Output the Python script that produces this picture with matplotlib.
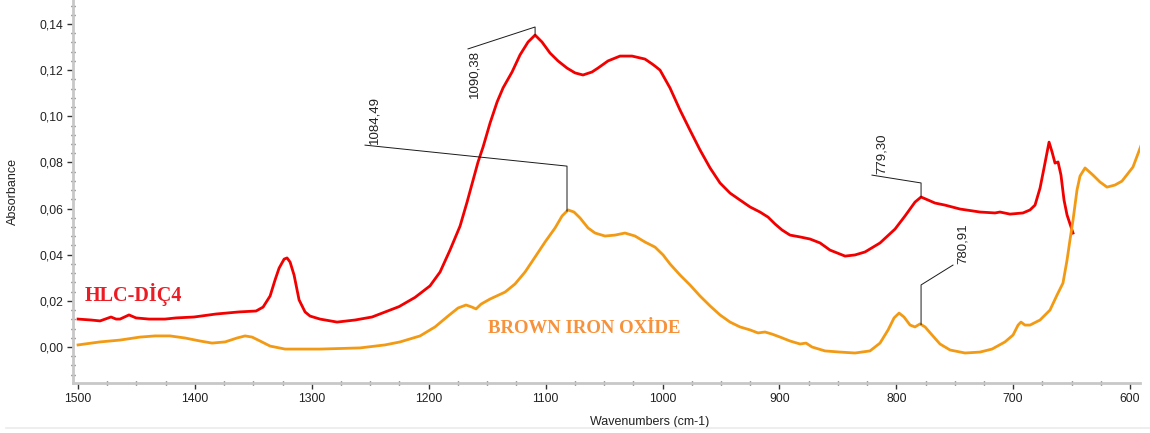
import numpy as np
import matplotlib
matplotlib.use("Agg")
import matplotlib.pyplot as plt
from matplotlib.lines import Line2D
from matplotlib.ticker import MultipleLocator, FuncFormatter

plt.rcParams['font.family'] = ['Liberation Sans', 'DejaVu Sans']

# HLC-DİÇ4 spectrum (wavenumber, absorbance)
hlc_wn = [1500.0, 1488.9, 1481.2, 1471.8, 1467.5, 1464.1, 1456.4, 1450.4, 1439.3, 1425.6,
          1416.2, 1400.8, 1381.9, 1362.3, 1347.7, 1341.7, 1335.7, 1331.5, 1328.0, 1323.7,
          1321.2, 1318.6, 1315.2, 1310.9, 1305.8, 1301.5, 1293.0, 1278.4, 1263.0, 1248.5,
          1225.4, 1211.7, 1198.9, 1190.3, 1181.8, 1173.2, 1167.2, 1157.8, 1153.5, 1147.5,
          1141.5, 1136.4, 1128.7, 1121.9, 1115.0, 1109.0, 1103.1, 1096.2, 1089.4, 1081.7,
          1074.8, 1068.0, 1060.3, 1055.2, 1046.6, 1036.3, 1026.1, 1015.0, 1008.9, 1005.5,
          1002.1, 993.6, 985.0, 976.5, 967.9, 959.3, 950.8, 942.2, 933.7, 925.1,
          916.6, 909.7, 903.7, 897.7, 890.9, 882.3, 873.8, 865.2, 856.7, 843.8,
          835.3, 826.7, 813.9, 801.1, 792.5, 784.0, 778.8, 772.8, 766.9, 758.3,
          745.5, 728.4, 715.5, 711.3, 702.7, 691.6, 685.6, 681.3, 677.0, 673.6,
          669.3, 666.7, 664.2, 661.6, 659.1, 656.5, 653.9, 648.8]
hlc_abs = [0.0121, 0.0117, 0.0113, 0.0130, 0.0121, 0.0121, 0.0139, 0.0126, 0.0121, 0.0121,
           0.0126, 0.0130, 0.0143, 0.0152, 0.0156, 0.0173, 0.0221, 0.0290, 0.0342, 0.0381,
           0.0386, 0.0368, 0.0312, 0.0204, 0.0152, 0.0134, 0.0121, 0.0108, 0.0117, 0.0130,
           0.0175, 0.0215, 0.0265, 0.0325, 0.0420, 0.0524, 0.0628, 0.0802, 0.0867, 0.0971,
           0.1062, 0.1123, 0.1192, 0.1266, 0.1322, 0.1352, 0.1322, 0.1274, 0.1240, 0.1209,
           0.1188, 0.1179, 0.1192, 0.1209, 0.1240, 0.1261, 0.1261, 0.1248, 0.1227, 0.1214,
           0.1200, 0.1123, 0.1027, 0.0940, 0.0854, 0.0776, 0.0711, 0.0667, 0.0637, 0.0607,
           0.0585, 0.0563, 0.0533, 0.0507, 0.0485, 0.0477, 0.0468, 0.0451, 0.0420, 0.0394,
           0.0399, 0.0412, 0.0451, 0.0511, 0.0568, 0.0628, 0.0650, 0.0637, 0.0624, 0.0615,
           0.0598, 0.0585, 0.0581, 0.0585, 0.0576, 0.0581, 0.0594, 0.0615, 0.0689, 0.0776,
           0.0888, 0.0845, 0.0797, 0.0802, 0.0745, 0.0637, 0.0572, 0.0494]

# brown iron oxide spectrum
bio_wn = [1500.0, 1481.2, 1464.1, 1447.0, 1434.1, 1421.3, 1408.5, 1395.6, 1385.4, 1374.2,
          1364.0, 1357.1, 1351.1, 1344.3, 1335.7, 1322.9, 1293.0, 1258.8, 1237.4, 1224.5,
          1207.4, 1194.6, 1183.5, 1174.9, 1168.1, 1163.0, 1159.5, 1155.2, 1147.5, 1134.7,
          1126.2, 1117.6, 1109.0, 1100.5, 1091.9, 1085.9, 1080.8, 1075.7, 1070.5, 1063.7,
          1057.7, 1049.2, 1040.6, 1032.1, 1023.5, 1015.0, 1006.4, 999.5, 993.6, 985.0,
          976.5, 967.9, 959.3, 950.8, 942.2, 933.7, 925.1, 918.3, 912.3, 906.3,
          899.4, 890.9, 882.3, 877.2, 872.1, 861.0, 848.1, 835.3, 822.5, 813.9,
          807.0, 801.9, 797.6, 793.4, 788.2, 784.0, 779.7, 775.4, 769.4, 762.6,
          754.0, 741.2, 728.4, 718.1, 707.0, 700.1, 695.8, 693.3, 689.9, 685.6,
          677.0, 668.5, 662.5, 657.4, 653.9, 651.4, 648.8, 645.4, 642.8, 638.5,
          631.7, 625.7, 619.7, 612.9, 606.9, 597.5, 589.8]
bio_abs = [0.0009, 0.0022, 0.0030, 0.0043, 0.0048, 0.0048, 0.0039, 0.0026, 0.0017, 0.0022,
           0.0039, 0.0048, 0.0043, 0.0026, 0.0004, -0.0009, -0.0009, -0.0004, 0.0009, 0.0022,
           0.0048, 0.0087, 0.0134, 0.0169, 0.0182, 0.0173, 0.0165, 0.0186, 0.0208, 0.0238,
           0.0273, 0.0325, 0.0390, 0.0455, 0.0516, 0.0568, 0.0594, 0.0585, 0.0559, 0.0516,
           0.0494, 0.0481, 0.0485, 0.0494, 0.0481, 0.0455, 0.0433, 0.0399, 0.0360, 0.0312,
           0.0269, 0.0221, 0.0178, 0.0139, 0.0108, 0.0087, 0.0074, 0.0061, 0.0065, 0.0056,
           0.0043, 0.0026, 0.0013, 0.0017, 0.0000, -0.0017, -0.0022, -0.0026, -0.0017, 0.0017,
           0.0074, 0.0126, 0.0147, 0.0130, 0.0095, 0.0087, 0.0100, 0.0087, 0.0052, 0.0013,
           -0.0013, -0.0026, -0.0022, -0.0009, 0.0022, 0.0052, 0.0095, 0.0108, 0.0095, 0.0095,
           0.0117, 0.0160, 0.0225, 0.0277, 0.0377, 0.0464, 0.0550, 0.0680, 0.0741, 0.0776,
           0.0745, 0.0715, 0.0693, 0.0702, 0.0719, 0.0780, 0.0884]

# peak labels: text, peak wavenumber, elbow height, label anchor (wn, abs), text above/below
peaks = [
    ('1090,38', 1109.0, 0.1387, (1166.4, 0.1292), 'below', 'hlc'),
    ('1084,49', 1081.7, 0.0784, (1254.5, 0.0875), 'above', 'bio'),
    ('779,30', 778.8, 0.0711, (820.8, 0.0745), 'above', 'hlc'),
    ('780,91', 778.8, 0.0269, (751.5, 0.0355), 'above', 'bio'),
]

red = '#f20000'
orange = '#f29a14'

fig = plt.figure(figsize=(11.5, 4.33), dpi=100)
ax = fig.add_axes([0.0635, 0.1155, 0.9278, 0.8845])

ax.plot(hlc_wn, hlc_abs, color=red, lw=2.0, solid_joinstyle='round')
ax.plot(bio_wn, bio_abs, color=orange, lw=2.0, solid_joinstyle='round')

curves = {'hlc': (hlc_wn, hlc_abs), 'bio': (bio_wn, bio_abs)}
for text, wn, elbow, (ex, ey), side, key in peaks:
    xs, ys = curves[key]
    tip = np.interp(wn, xs[::-1], ys[::-1])
    ax.plot([wn, wn, ex], [tip, elbow, ey], color='#1a1a1a', lw=0.7)
    if side == 'above':
        ax.annotate(text, (ex, ey), xytext=(7, 1), textcoords='offset points',
                    rotation=90, ha='center', va='bottom', fontsize=9.5, color='#222222')
    else:
        ax.annotate(text, (ex, ey), xytext=(5, -1), textcoords='offset points',
                    rotation=90, ha='center', va='top', fontsize=9.5, color='#222222')

ax.text(1494, 0.0199, 'HLC-DİÇ4', color='#ec1c24', fontsize=14.5, fontweight='bold',
        family=['Liberation Serif', 'DejaVu Serif'], va='baseline')
ax.text(1149.3, 0.0061, 'BROWN IRON OXİDE', color='#f7923a', fontsize=13.5, fontweight='bold',
        family=['Liberation Serif', 'DejaVu Serif'], va='baseline')

ax.set_xlim(1504.3, 591.5)
ax.set_ylim(-0.0156, 0.1504)

ax.xaxis.set_major_locator(MultipleLocator(100))
ax.xaxis.set_minor_locator(MultipleLocator(25))
ax.yaxis.set_major_locator(MultipleLocator(0.02))
ax.yaxis.set_minor_locator(MultipleLocator(0.004))
ax.yaxis.set_major_formatter(FuncFormatter(lambda v, p: f'{v:.2f}'.replace('.', ',').replace('-0,00', '0,00')))
ax.xaxis.set_major_formatter(FuncFormatter(lambda v, p: f'{v:.0f}'))

for s in ['top', 'right']:
    ax.spines[s].set_visible(False)
for s in ['left', 'bottom']:
    ax.spines[s].set_color('#c8c8c8')
    ax.spines[s].set_linewidth(2.0)

ax.tick_params(which='major', direction='out', length=4, width=1.0, color='#333333',
               labelsize=8.8, labelcolor='#222222', pad=3)
ax.tick_params(which='minor', direction='inout', length=2.5, width=1.0, color='#444444')

ax.set_xlabel('Wavenumbers (cm-1)', fontsize=9, color='#222222')
ax.set_ylabel('Absorbance', fontsize=9, color='#222222')
ax.xaxis.set_label_coords(0.54, -0.085)
ax.yaxis.set_label_coords(-0.051, 0.5)

fig.add_artist(Line2D([0.005, 1.0], [1 - 428 / 433, 1 - 428 / 433], color='#ebebeb', lw=1.2))

fig.savefig('out.png', dpi=100, facecolor='white')
